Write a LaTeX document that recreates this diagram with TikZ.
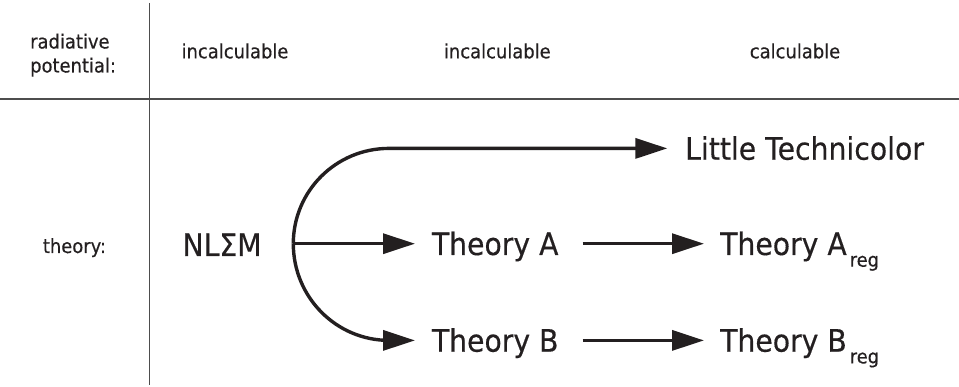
\documentclass[tikz,border=0pt]{standalone}
\usepackage{fontspec}
\setmainfont{DejaVu Sans}[FakeStretch=0.915,FakeBold=0.4]
\usetikzlibrary{arrows.meta}
\definecolor{ink}{HTML}{231F20}
\definecolor{rulecol}{HTML}{4D4D4D}
\begin{document}
\begin{tikzpicture}[x=1pt,y=-1pt,
  small/.style={font=\fontsize{19.6}{24}\selectfont, text=ink, inner sep=0pt},
  big/.style={font=\fontsize{30.9}{36}\selectfont, text=ink, inner sep=0pt, text height=22.6pt, text depth=0pt, anchor=base west},
  arr/.style={draw=ink, line width=3.4pt, -{Triangle[length=32pt,width=20pt]}},
  tablerule/.style={draw=rulecol, line width=1.8pt}]
\useasboundingbox (0,0) rectangle (959,387);
% table rules
\draw[tablerule] (149.5,3) -- (149.5,385);
\draw[tablerule] (0,99) -- (959,99);
% header
\node[small, anchor=north west, align=left] (hdr) at (30,33.4) {radiative\\potential:};
\node[small, anchor=base] (c1) at (235,58.3) {incalculable};
\node[small, anchor=base] (c2) at (497.3,58.3) {incalculable};
\node[small, anchor=base] (c3) at (795,58.3) {calculable};
% row label
\node[small, anchor=base west] (rowlab) at (42.7,253) {theory:};
% theories
\node[big] (nlsm) at (182.3,256) {NLΣM};
\node[big] (lt) at (685,159.7) {Little Technicolor};
\node[big] (thA) at (431.7,255) {Theory A};
\node[big] (thB) at (431.7,351.7) {Theory B};
\node[big] (thAr) at (720,255) {Theory A\kern3pt\raisebox{-11.7pt}{\fontsize{19.5}{20}\selectfont reg}};
\node[big] (thBr) at (720,351.7) {Theory B\kern3pt\raisebox{-11.7pt}{\fontsize{19.5}{20}\selectfont reg}};
% connectors
\coordinate (fork) at (293.3,243.7);
\draw[arr, shorten >=17.7pt] (fork) .. controls (293.3,191) and (336,148.4) .. (389,148.4) -- (lt.west);
\draw[arr, shorten >=16.7pt] (fork) -- (thA.west);
\draw[arr, shorten >=16.7pt] (fork) .. controls (293.3,297) and (336,340.4) .. (389,340.4) -- (thB.west);
\draw[arr, shorten <=24pt, shorten >=16pt] (thA.east) -- (thAr.west);
\draw[arr, shorten <=24pt, shorten >=16pt] (thB.east) -- (thBr.west);
\end{tikzpicture}
\end{document}
